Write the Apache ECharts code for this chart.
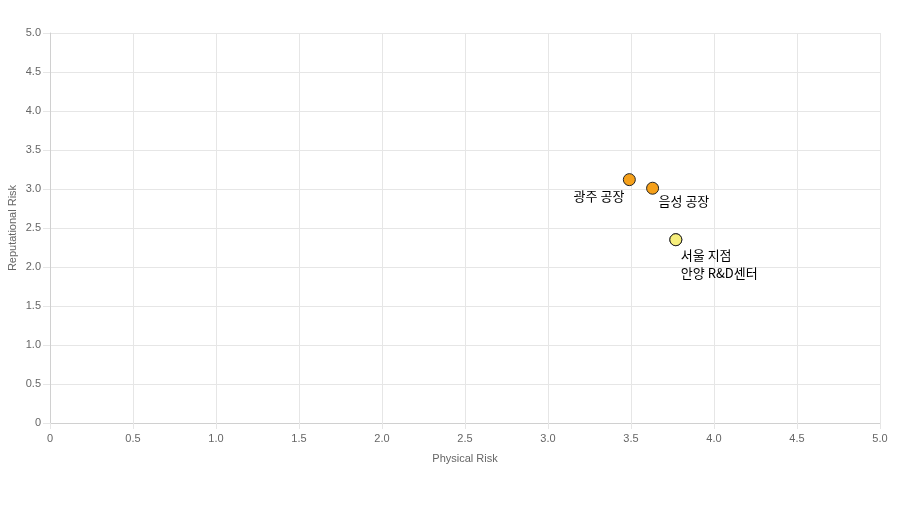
<!DOCTYPE html>
<html>
<head>
<meta charset="utf-8">
<script src="https://cdn.jsdelivr.net/npm/echarts@6/dist/echarts.min.js"></script>
<style>
  html, body { margin: 0; padding: 0; background: #fff; }
  #chart { width: 900px; height: 510px; }
</style>
</head>
<body>
<div id="chart"></div>
<script>
// sites and their risk scores
const sites = ["광주 공장", "음성 공장", "서울 지점", "안양 R&D센터"];
const physicalRisk = [3.49, 3.63, 3.77, 3.77];
const reputationalRisk = [3.12, 3.01, 2.35, 2.35];
const pointColors = ["#f5a01a", "#f5a01a", "#f6ee7c", "#f6ee7c"];
// where each name sits relative to its dot
const labelAlign = ["right", "left", "left", "left"];
const labelOffset = [[-5, 16], [6, 13], [5, 15], [5, 33]];

const gridColor = "#e6e6e6";
const tickFont = { color: "#666", fontSize: 11, fontFamily: "Liberation Sans, Arial, sans-serif" };
const fmt = (v) => (v === 0 ? "0" : v.toFixed(1));

const data = sites.map((name, i) => ({
  name: name,
  value: [physicalRisk[i], reputationalRisk[i]],
  itemStyle: { color: pointColors[i] },
  label: { align: labelAlign[i], offset: labelOffset[i] },
}));

const option = {
  animation: false,
  grid: { left: 50, right: 20, top: 33, bottom: 87, outerBoundsMode: "none", containLabel: false },
  xAxis: {
    type: "value",
    min: 0,
    max: 5,
    interval: 0.5,
    name: "Physical Risk",
    nameLocation: "middle",
    nameGap: 30,
    nameMoveOverlap: false,
    nameTextStyle: tickFont,
    axisLine: { show: true, lineStyle: { color: "#d0d0d0" } },
    axisTick: { show: true, length: 6, lineStyle: { color: gridColor } },
    axisLabel: Object.assign({ margin: 10, formatter: fmt }, tickFont),
    splitLine: { show: true, lineStyle: { color: gridColor } },
  },
  yAxis: {
    type: "value",
    min: 0,
    max: 5,
    interval: 0.5,
    name: "Reputational Risk",
    nameLocation: "middle",
    nameGap: 32,
    nameMoveOverlap: false,
    nameTextStyle: tickFont,
    axisLine: { show: true, lineStyle: { color: "#d0d0d0" } },
    axisTick: { show: true, length: 7, lineStyle: { color: gridColor } },
    axisLabel: Object.assign({ margin: 9, formatter: fmt }, tickFont),
    splitLine: { show: true, lineStyle: { color: gridColor } },
  },
  series: [
    {
      type: "scatter",
      symbolSize: 12,
      itemStyle: { borderColor: "#222", borderWidth: 1, opacity: 1 },
      label: {
        show: true,
        position: "inside",
        verticalAlign: "middle",
        formatter: (p) => p.name,
        color: "#000",
        fontSize: 13,
        fontFamily: "Noto Sans CJK KR, sans-serif",
      },
      data: data,
    },
  ],
};

const chart = echarts.init(document.getElementById("chart"));
chart.setOption(option);
</script>
</body>
</html>
